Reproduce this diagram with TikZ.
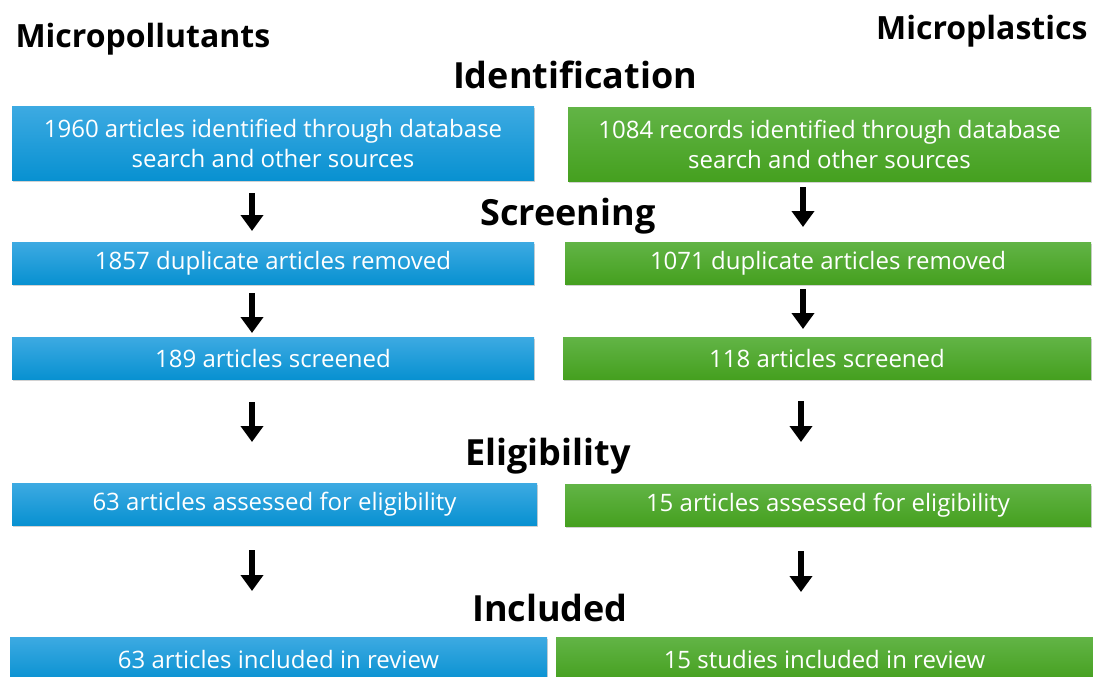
\documentclass[tikz,border=0pt]{standalone}
\usepackage{fontspec}
\setmainfont{Open Sans}
\usetikzlibrary{arrows.meta,shadows}
\definecolor{bluetop}{HTML}{3DAAE2}
\definecolor{bluebot}{HTML}{0891D1}
\definecolor{greentop}{HTML}{62B446}
\definecolor{greenbot}{HTML}{45A01F}
\begin{document}
\begin{tikzpicture}[x=1pt,y=-1pt,
  box/.style={inner sep=0pt,align=center,text=white,font=\fontsize{24}{30}\selectfont,
     drop shadow={shadow xshift=1pt,shadow yshift=-2pt,opacity=0.35}},
  bluebox/.style={box,top color=bluetop,bottom color=bluebot},
  greenbox/.style={box,top color=greentop,bottom color=greenbot},
  head/.style={font=\fontsize{36}{40}\selectfont\bfseries},
  side/.style={font=\fontsize{32}{36}\selectfont\bfseries},
  flow/.style={line width=6pt,-{Triangle[width=22pt,length=16pt]}}]
\useasboundingbox[fill=white] (0,0) rectangle (1093,677);
% headers
\node[side,anchor=west] (mp) at (12,39) {Micropollutants};
\node[side,anchor=east] (mpl) at (1091,31) {Microplastics};
\node[head] (hid) at (575,75) {Identification};
\node[head] (hsc) at (568,216) {Screening};
\node[head] (hel) at (548,456) {Eligibility};
\node[head] (hin) at (550,608) {Included};
% boxes
\node[bluebox,minimum width=522pt,minimum height=74pt] (l1) at (273,143) {1960 articles identified through database\\search and other sources};
\node[greenbox,minimum width=523pt,minimum height=74pt] (r1) at (829.5,144) {1084 records identified through database\\search and other sources};
\node[bluebox,minimum width=522pt,minimum height=42pt] (l2) at (273,263) {1857 duplicate articles removed};
\node[greenbox,minimum width=526pt,minimum height=42pt] (r2) at (828,263) {1071 duplicate articles removed};
\node[bluebox,minimum width=522pt,minimum height=42pt] (l3) at (273,358) {189 articles screened};
\node[greenbox,minimum width=528pt,minimum height=42pt] (r3) at (827,358) {118 articles screened};
\node[bluebox,minimum width=525pt,minimum height=42pt] (l4) at (274.5,504) {63 articles assessed for eligibility};
\node[greenbox,minimum width=526pt,minimum height=42pt] (r4) at (828,505) {15 articles assessed for eligibility};
\node[bluebox,minimum width=537pt,minimum height=44pt] (l5) at (278.5,659) {63 articles included in review};
\node[greenbox,minimum width=537pt,minimum height=44pt] (r5) at (824.5,659) {15 studies included in review};
% arrow coordinates
\coordinate (la1) at (252,193); \coordinate (lb1) at (252,231);
\coordinate (la2) at (252,293); \coordinate (lb2) at (252,333);
\coordinate (la3) at (252,402); \coordinate (lb3) at (252,442);
\coordinate (la4) at (252,550); \coordinate (lb4) at (252,591);
\coordinate (ra1) at (803,187); \coordinate (rb1) at (803,227);
\coordinate (ra2) at (803,289); \coordinate (rb2) at (803,329);
\coordinate (ra3) at (801,401); \coordinate (rb3) at (801,442);
\coordinate (ra4) at (801,551); \coordinate (rb4) at (801,592);
\foreach \i in {1,2,3,4}{
  \draw[flow] (la\i) -- (lb\i);
  \draw[flow] (ra\i) -- (rb\i);
}
\end{tikzpicture}
\end{document}
